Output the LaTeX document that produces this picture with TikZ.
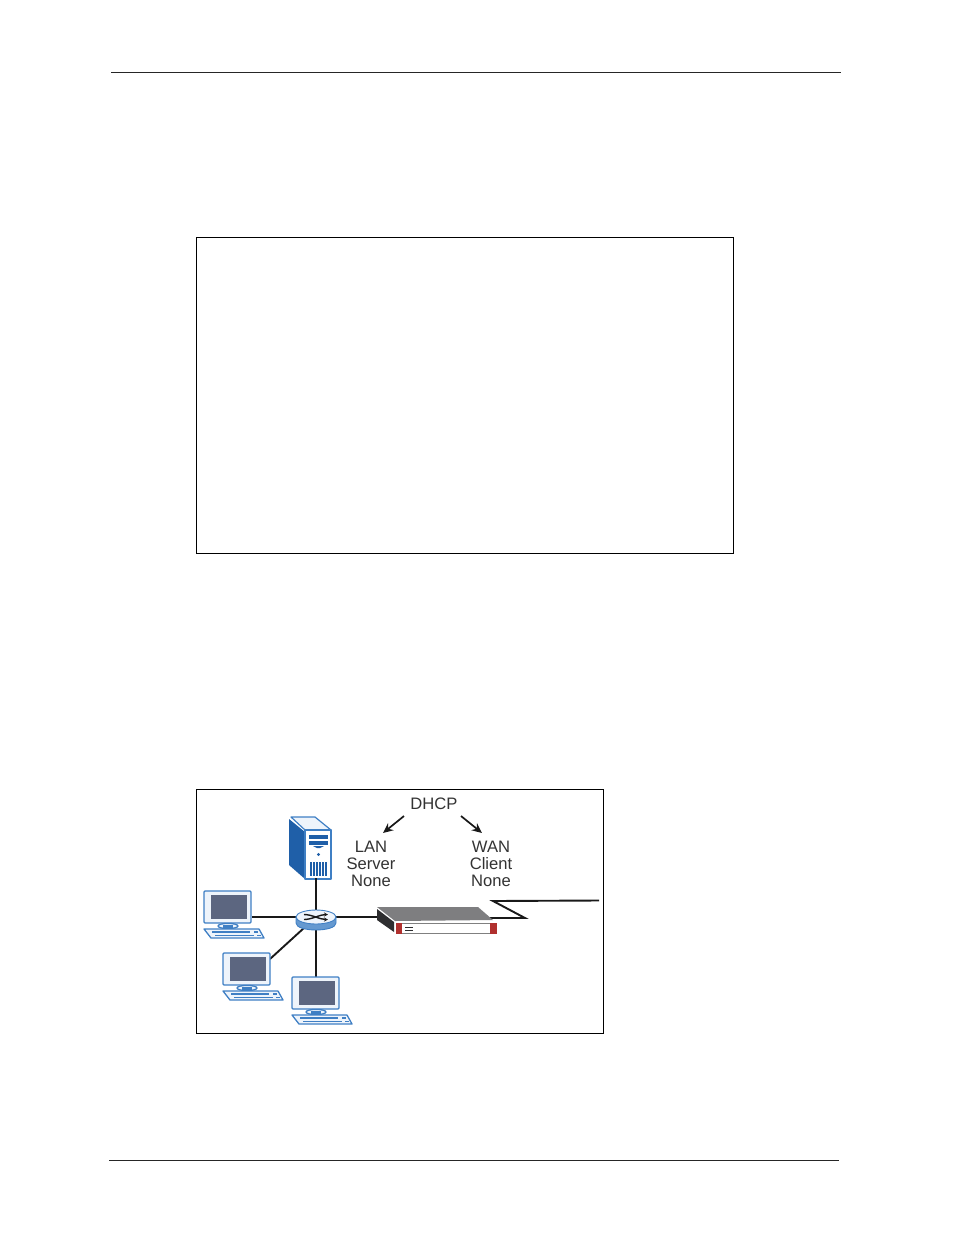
\documentclass[tikz,border=0pt]{standalone}
\usepackage{fontspec}
\setmainfont{Liberation Sans}
\usetikzlibrary{arrows.meta,shapes.geometric}
\definecolor{pcblue}{HTML}{3F7FC4}
\definecolor{pale}{HTML}{EEF4FB}
\definecolor{screen}{HTML}{5C6680}
\definecolor{srvblue}{HTML}{1F5FA8}
\definecolor{devgray}{HTML}{7E7E80}
\definecolor{devdark}{HTML}{2E2E30}
\definecolor{devred}{HTML}{B0302E}
\tikzset{
  x=1pt,y=-1pt,
  rulel/.style={draw=black!85,line width=0.9pt},
  frame/.style={draw=black,line width=0.8pt},
  link/.style={draw=black!90,line width=1.9pt},
  arrowl/.style={draw=black!90,line width=1.7pt,-{Stealth[length=10pt,width=9pt]}},
  lbl/.style={font=\fontsize{16.6}{18}\selectfont,text=black!80,inner sep=0pt,anchor=center},
  pcline/.style={draw=pcblue,line width=1.3pt,fill=pale,line join=round},
  routertop/.style={draw=pcblue,line width=0.9pt,fill=pale,ellipse,minimum width=40pt,minimum height=14pt,inner sep=0pt},
  pc/.pic={
    \path[pcline,rounded corners=1pt] (0,0) rectangle (47,32);
    \path[fill=screen] (7,4) rectangle (43,28);
    \path[pcline] (24,35) ellipse (10 and 2.6);
    \path[fill=pcblue] (19,33.5) rectangle (29,36.5);
    \path[pcline] (0,38) -- (55,38) -- (60,47) -- (7,47) -- cycle;
    \path[draw=pcblue,line width=1.6pt] (8,41) -- (46,41) (11,44.3) -- (50,44.3);
    \path[draw=pcblue,line width=1.6pt] (50,41) -- (54,41) (53,44.3) -- (57,44.3);
  }
}
\begin{document}
\begin{tikzpicture}
\useasboundingbox (0,0) rectangle (954,1235);
% page rules
\coordinate (h1) at (111,72); \coordinate (h2) at (841,72);
\coordinate (f1) at (109,1160); \coordinate (f2) at (839,1160);
\draw[rulel] (h1) -- (h2);
\draw[rulel] (f1) -- (f2);
% frames
\draw[frame] (196.5,237.5) rectangle (733.5,553.5);
\draw[frame] (196.5,789.5) rectangle (603.5,1033.5);
% named ends
\coordinate (srv) at (316,878);
\coordinate (pc1) at (252,917);
\coordinate (pc2) at (270,959);
\coordinate (pc3) at (316,978);
\coordinate (devl) at (380,917);
\coordinate (w0) at (487,918);
\coordinate (w1) at (525,918);
\coordinate (w2) at (493,901);
\coordinate (w3) at (599,900.5);
% server
\fill[srvblue] (289,819) -- (305,832) -- (305,879) -- (289,865) -- cycle;
\path[draw=pcblue,line width=1.2pt,fill=pale,line join=round] (291,817) -- (315,817) -- (331,830) -- (305,830) -- cycle;
\path[draw=pcblue,line width=1.2pt,fill=white,line join=round] (305,830) -- (331,830) -- (331,879) -- (305,879) -- cycle;
\fill[srvblue] (309,834.5) rectangle (328,838.5);
\fill[srvblue] (309,840.5) rectangle (328,845);
\fill[srvblue] (313,846) -- (324,846) -- (320,848) -- (317,848) -- cycle;
\fill[srvblue] (318.5,854.5) circle (1.7);
\foreach \i in {0,...,5} \fill[srvblue] ({310+\i*3},862) rectangle ({311.8+\i*3},876);
% connectors (router drawn over them)
\coordinate (rt) at (316,917);
\draw[link] (srv) -- (rt);
\draw[link] (pc1) -- (rt);
\draw[link] (pc2) -- (rt);
\draw[link] (pc3) -- (rt);
\draw[link] (rt) -- (devl);
\draw[link,line join=miter] (w0) -- (w1) -- (w2) -- (w3);
% router
\path[draw=pcblue,line width=0.9pt,fill=pcblue!80] (296,917) -- (296,923) .. controls (296,932.3) and (336,932.3) .. (336,923) -- (336,917) -- cycle;
\node[routertop] (router) at (rt) {};
\draw[black!90,line width=1.4pt,-{Stealth[length=4pt,width=4pt]}] (304,914.5) .. controls (312,914.5) and (320,919.5) .. (328,919.5);
\draw[black!90,line width=1.4pt,-{Stealth[length=4pt,width=4pt]}] (304,919.5) .. controls (312,919.5) and (320,914.5) .. (328,914.5);
% PCs
\pic at (204,891) {pc};
\pic at (223,953) {pc};
\pic at (292,977) {pc};
% device
\fill[devgray] (377,907) -- (478,907) -- (493,920) -- (395,921) -- cycle;
\fill[devdark] (377,909) -- (394,922) -- (394,932) -- (377,920) -- cycle;
\fill[white] (395,922) rectangle (497,935);
\fill[devred] (396,923) rectangle (402,934);
\fill[devred] (490,923) rectangle (497,934);
\fill[devdark] (405,927) rectangle (413,928.2);
\fill[devdark] (405,930) rectangle (413,931.2);
\draw[black!50,line width=0.5pt] (402,923) -- (490,923) (402,933.5) -- (490,933.5);
% labels
\node[lbl] (dhcp) at (434,804) {DHCP};
\node[lbl] (lan) at (371,847) {LAN};
\node[lbl] (server) at (371,864) {Server};
\node[lbl] (none1) at (371,881) {None};
\node[lbl] (wan) at (491,847) {WAN};
\node[lbl] (client) at (491,864) {Client};
\node[lbl] (none2) at (491,881) {None};
\coordinate (a1) at (404,816); \coordinate (a2) at (383,833);
\coordinate (b1) at (461,816); \coordinate (b2) at (482,833);
\draw[arrowl] (a1) -- (a2);
\draw[arrowl] (b1) -- (b2);
\end{tikzpicture}
\end{document}
